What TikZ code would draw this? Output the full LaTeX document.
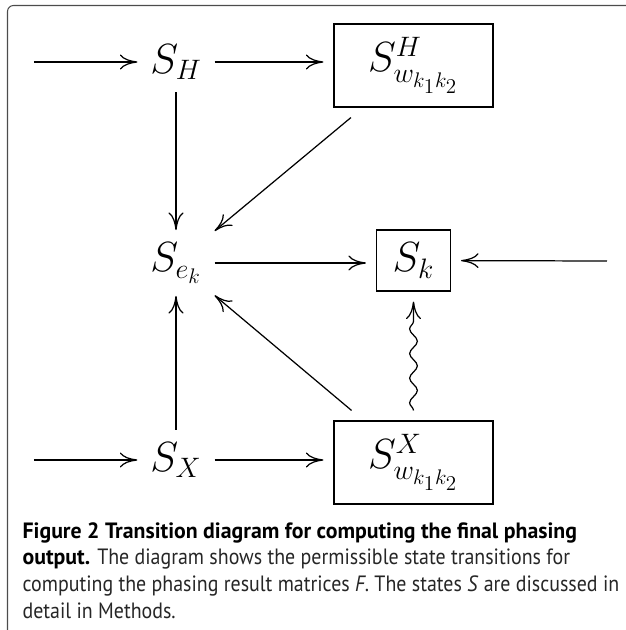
\documentclass[tikz,border=0pt]{standalone}
\usepackage{fix-cm}
\usepackage{fontspec}
\setsansfont{PT Sans}[
  UprightFeatures={FakeStretch=0.9},
  ItalicFeatures={FakeStretch=0.9},
  BoldFeatures={FakeStretch=0.985}]
\usetikzlibrary{arrows.meta,decorations.pathmorphing}
\DeclareMathSizes{24}{24}{16}{12}

\tikzset{
  state/.style={inner xsep=7pt, inner ysep=7pt, font=\fontsize{24}{28}\selectfont},
  statebox/.style={state, draw, line width=0.7pt, outer sep=6pt},
  squiggle/.style={decorate, decoration={snake, amplitude=2.2pt, segment length=14pt, post length=6pt}},
}

\begin{document}
\begin{tikzpicture}[>={Computer Modern Rightarrow[length=10pt,width=8.5pt]}, line width=0.7pt]
  \useasboundingbox (0,0) rectangle (12.52,12.6);
  % frame of the figure
  \draw[black!70, line width=0.6pt, rounded corners=0.12cm] (0.15,-0.2) -- (0.15,12.49) -- (12.72,12.49);

  % states
  \node[state] (SH) at (3.52,11.36) {$S_H$};
  \node[statebox, minimum width=3.18cm, minimum height=1.66cm] (SwH) at (8.27,11.29) {$S^H_{w_{k_1k_2}}$};
  \node[state] (Sek) at (3.52,7.34) {$S_{e_k}$};
  \node[statebox, minimum width=1.48cm, minimum height=1.22cm] (Sk) at (8.27,7.39) {$S_k$};
  \node[state] (SX) at (3.52,3.40) {$S_X$};
  \node[statebox, minimum width=3.18cm, minimum height=1.66cm] (SwX) at (8.27,3.35) {$S^X_{w_{k_1k_2}}$};

  \coordinate (inH) at (0.68,11.36);
  \coordinate (inX) at (0.68,3.40);
  \coordinate (inK) at (12.14,7.38);

  % transitions
  \draw[->] (inH) -- (SH);
  \draw[->] (SH) -- (SH -| SwH.west);
  \draw[->] (SH) -- (Sek);
  \draw[->] (SwH) -- (Sek);
  \draw[->] (Sek) -- (Sek -| Sk.west);
  \draw[->] (inK) -- (Sk);
  \draw[->] (SX) -- (Sek);
  \draw[->] (SwX) -- (Sek);
  \draw[->] (inX) -- (SX);
  \draw[->] (SX) -- (SX -| SwX.west);
  \draw[->, squiggle] (SwX) -- (Sk);

  % caption
  \node[anchor=base west, align=left, inner sep=0pt, text=black!85,
        font=\sffamily\fontsize{12.6}{15.1}\selectfont] (caption) at (0.44,0.24)
    {\textbf{\color{black}Figure 2 Transition diagram for computing the final phasing}\\
     \textbf{\color{black}output.} The diagram shows the permissible state transitions for\\
     computing the phasing result matrices \textit{F}. The states \textit{S} are discussed in\\
     detail in Methods.};
\end{tikzpicture}
\end{document}
